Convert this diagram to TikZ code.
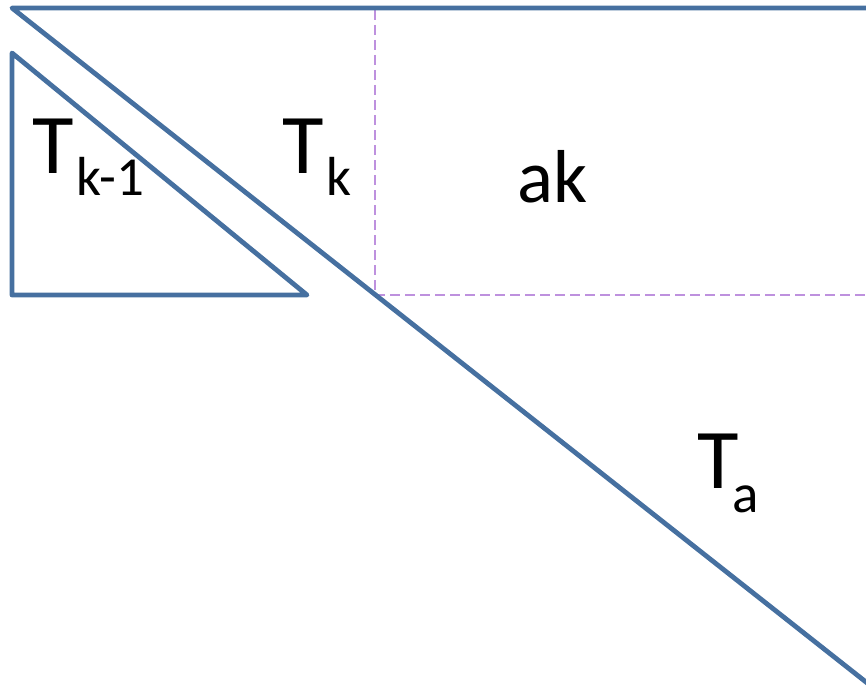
\documentclass[tikz,border=0pt]{standalone}
\usepackage{fontspec}
\setmainfont{Carlito}
\definecolor{lineblue}{RGB}{70,112,160}
\definecolor{dashlav}{RGB}{190,145,222}
\begin{document}
\begin{tikzpicture}[x=1pt,y=-1pt,
  mainline/.style={draw=lineblue,line width=4.8pt,line cap=round,line join=round},
  guide/.style={draw=dashlav,line width=1.3pt,dash pattern=on 10pt off 5pt},
  lbl/.style={inner sep=0pt,anchor=base west,text=black}]
\useasboundingbox (0,0) rectangle (866,690);
% guides
\draw[guide] (375,10) -- (375,295);
\draw[guide] (375,295) -- (866,295);
% big triangle edges
\coordinate (tl) at (12,8);
\coordinate (tr) at (870,8);
\coordinate (br) at (870,685.2);
\draw[mainline] (tr) -- (tl) -- (br);
% small triangle
\coordinate (s1) at (12,53);
\coordinate (s2) at (12,295);
\coordinate (s3) at (307,295);
\draw[mainline] (s1) -- (s2) -- (s3) -- cycle;
% labels
\node[lbl] (tkm) at (32,173) {\fontsize{85}{85}\selectfont T\kern3pt\raisebox{-22pt}{\fontsize{55}{55}\selectfont k-1}};
\node[lbl] (tk) at (282,173) {\fontsize{85}{85}\selectfont T\kern3pt\raisebox{-22pt}{\fontsize{55}{55}\selectfont k}};
\node[lbl] (ak) at (517,202) {\fontsize{75}{75}\selectfont ak};
\node[lbl] (ta) at (697,488) {\fontsize{85}{85}\selectfont T\kern-6pt\raisebox{-24pt}{\fontsize{55}{55}\selectfont a}};
\end{tikzpicture}
\end{document}
